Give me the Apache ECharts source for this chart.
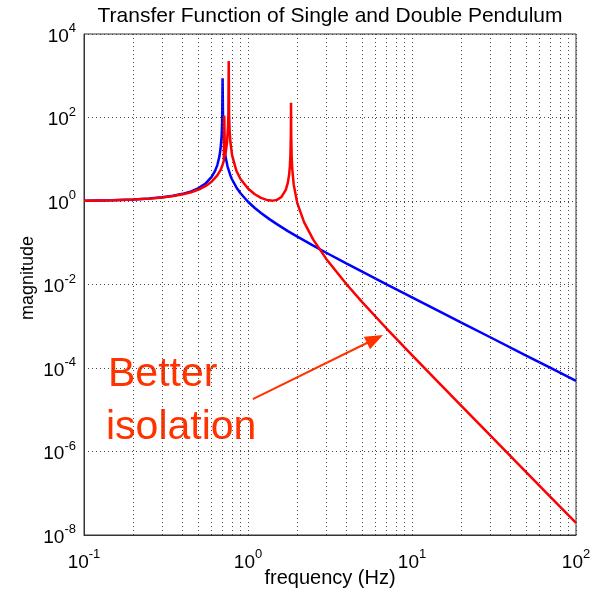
<!DOCTYPE html>
<html><head><meta charset="utf-8">
<script src="https://cdn.jsdelivr.net/npm/echarts@6/dist/echarts.min.js"></script>
<style>html,body{margin:0;padding:0;background:#fff}#c{width:597px;height:594px}</style>
</head><body><div id="c"></div>
<script>
// ---- text ----
const titleText = 'Transfer Function of Single and Double Pendulum';
const xName = 'frequency (Hz)';
const yName = 'magnitude';
const annotationLines = ['Better', 'isolation'];

// ---- axes ----
const xRange = [0.1, 100];
const yRange = [1e-8, 1e4];
const xMinorGrid = [0.2,0.3,0.4,0.5,0.6,0.7,0.8,0.9, 2,3,4,5,6,7,8,9, 20,30,40,50,60,70,80,90];

// ---- single pendulum (blue) ----
const freqSingle = [0.1,0.15,0.2,0.25,0.3,0.35,0.4,0.45,0.5,0.55,0.6,0.63,0.65,0.67,0.68,0.69,0.695,0.70,0.705,0.71,0.715,0.72,0.73,0.75,0.78,0.8,0.85,0.9,1.0,1.1,1.2,1.35,1.5,1.75,2,2.5,3,4,5,7,10,15,20,30,50,70,100];
const magSingle  = [1.02,1.048,1.089,1.146,1.225,1.333,1.485,1.704,2.04,2.61,3.77,5.26,7.25,11.9,17.8,35,70,870,70,110,24,17.2,11.4,6.76,4.14,3.27,2.11,1.53,0.96,0.681,0.516,0.368,0.279,0.190,0.140,0.085,0.0576,0.0316,0.0200,0.0101,0.00493,0.00218,0.001227,0.000545,0.000196,0.000101,0.000049];

// ---- double pendulum (red) ----
const freqDouble = [0.1,0.15,0.2,0.25,0.3,0.35,0.4,0.45,0.5,0.55,0.6,0.65,0.68,0.70,0.712,0.717,0.722,0.735,0.745,0.755,0.759,0.763,0.767,0.772,0.78,0.8,0.85,0.9,1.0,1.1,1.2,1.3,1.42,1.5,1.6,1.7,1.75,1.78,1.8,1.815,1.825,1.83,1.835,1.845,1.86,1.9,2.0,2.2,2.5,3,4,5,7,10,15,20,30,50,70,100];
const magDouble  = [1.02,1.047,1.086,1.14,1.214,1.312,1.444,1.625,1.88,2.27,2.90,4.09,5.47,7.4,9.1,110,11.3,16.5,25.7,57.6,115,2240,115,51,27,12.4,5.29,3.37,1.99,1.45,1.19,1.06,1.02,1.064,1.25,1.84,2.75,4.18,6.74,13.2,38.8,224,38,12.5,6.13,2.46,0.876,0.307,0.1186,0.041,0.0100,0.00369,0.000882,0.000203,0.0000392,0.0000123,0.00000242,0.000000312,0.0000000813,0.0000000195];

// ---- annotation arrow (data coords) ----
const arrowFrom = [1.07, 1.8e-5];
const arrowTo = [5.95, 4.95e-4];

const FONT = "'Liberation Sans', Arial, Helvetica, sans-serif";
const pairs = (xs, ys) => xs.map((x, i) => [x, ys[i]]);
const supFmt = v => '{b|10}{s|' + Math.round(Math.log10(v)) + '}';
const gridStyle = { color: '#444', width: 1, type: [1, 3] };
const orange = '#ff3300';

const chart = echarts.init(document.getElementById('c'), null, { renderer: 'canvas' });
chart.setOption({
  animation: false,
  backgroundColor: '#fff',
  grid: { left: 84, right: 21, top: 34, bottom: 59, show: true, borderColor: '#333', borderWidth: 1, containLabel: false },
  xAxis: {
    type: 'log', logBase: 10, min: xRange[0], max: xRange[1], interval: 1,
    axisLine: { show: true, onZero: false, lineStyle: { color: '#333' } },
    axisTick: { show: false },
    splitLine: { show: true, lineStyle: gridStyle },
    axisLabel: {
      formatter: supFmt, margin: 13,
      rich: { b: { fontSize: 19, fontFamily: FONT, color: '#000', verticalAlign: 'bottom', lineHeight: 24 },
              s: { fontSize: 13, fontFamily: FONT, color: '#000', verticalAlign: 'top', lineHeight: 24 } }
    }
  },
  yAxis: {
    type: 'log', logBase: 10, min: yRange[0], max: yRange[1], interval: 2,
    axisLine: { show: true, onZero: false, lineStyle: { color: '#333' } },
    axisTick: { show: false },
    splitLine: { show: true, lineStyle: gridStyle },
    axisLabel: {
      formatter: supFmt, margin: 8,
      rich: { b: { fontSize: 19, fontFamily: FONT, color: '#000', verticalAlign: 'bottom', lineHeight: 24 },
              s: { fontSize: 13, fontFamily: FONT, color: '#000', verticalAlign: 'top', lineHeight: 24 } }
    }
  },
  graphic: [
    { type: 'text', x: 330, y: 16, style: { text: titleText, font: '21px ' + FONT, fill: '#000', align: 'center', verticalAlign: 'middle' } },
    { type: 'text', x: 330, y: 578, style: { text: xName, font: '20px ' + FONT, fill: '#000', align: 'center', verticalAlign: 'middle' } },
    { type: 'text', x: 28, y: 278, rotation: Math.PI / 2, style: { text: yName, font: '18px ' + FONT, fill: '#000', align: 'center', verticalAlign: 'middle' } },
    { type: 'text', x: 108, y: 375, style: { text: annotationLines[0], font: '41px ' + FONT, fill: orange, align: 'left', verticalAlign: 'middle' } },
    { type: 'text', x: 106, y: 428, style: { text: annotationLines[1], font: '41px ' + FONT, fill: orange, align: 'left', verticalAlign: 'middle' } }
  ],
  series: [
    {
      name: 'single', type: 'line', data: pairs(freqSingle, magSingle), showSymbol: false, symbol: 'none',
      lineStyle: { color: '#0000ff', width: 2.5 }, z: 3,
      markLine: {
        silent: true, symbol: 'none', label: { show: false }, animation: false,
        lineStyle: gridStyle,
        data: xMinorGrid.map(v => ({ xAxis: v }))
      }
    },
    {
      name: 'double', type: 'line', data: pairs(freqDouble, magDouble), showSymbol: false, symbol: 'none',
      lineStyle: { color: '#ff0000', width: 2.5 }, z: 4,
      markLine: {
        silent: true, animation: false, label: { show: false },
        symbol: ['none', 'triangle'], symbolSize: [14, 18],
        lineStyle: { color: orange, width: 2, type: 'solid' },
        itemStyle: { color: orange },
        data: [[{ coord: arrowFrom }, { coord: arrowTo }]]
      }
    }
  ]
});
</script></body></html>
